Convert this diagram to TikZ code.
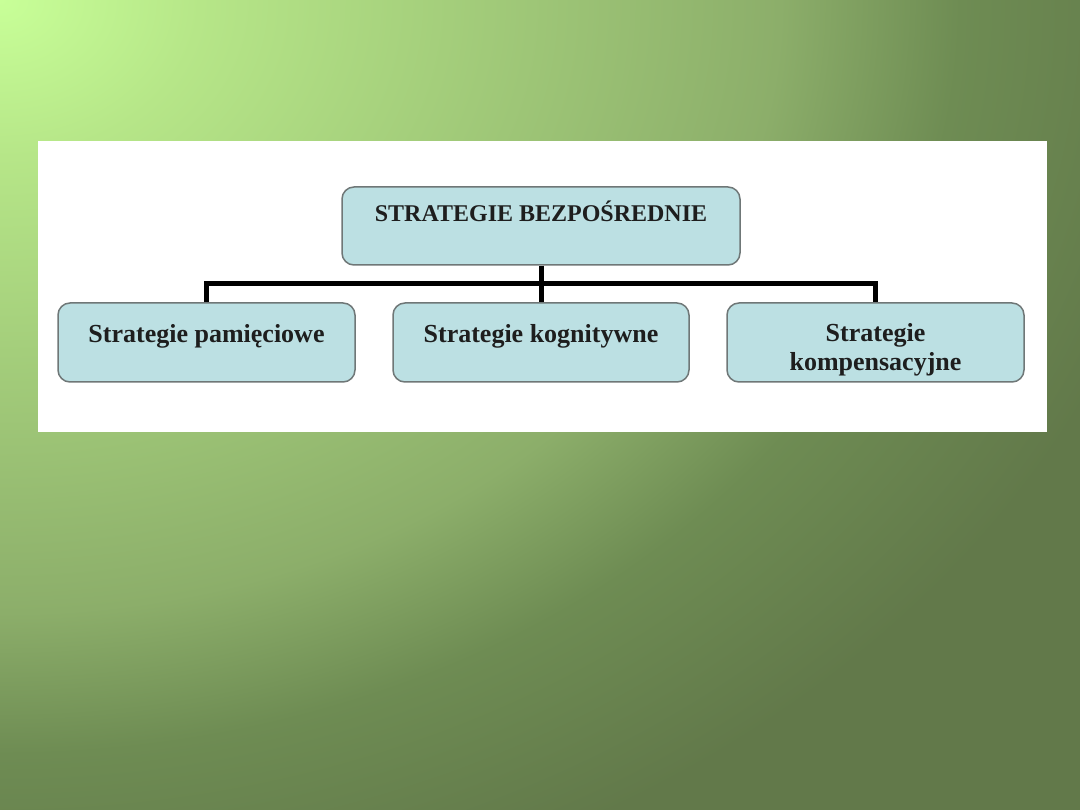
\documentclass[tikz,border=0pt]{standalone}
\usepackage{fontspec}
\setmainfont{Liberation Serif}
\definecolor{bgA}{HTML}{C8FF98}
\definecolor{bgB}{HTML}{B6E688}
\definecolor{bgC}{HTML}{8CAE6A}
\definecolor{bgD}{HTML}{6E8C53}
\definecolor{bgE}{HTML}{62794A}
\definecolor{boxfill}{HTML}{BCE0E3}
\definecolor{boxline}{HTML}{6F7777}
\definecolor{txt}{HTML}{1E1E1E}
\pgfdeclareradialshading{bgshade}{\pgfpoint{0bp}{0bp}}{color(0bp)=(bgA); color(2.5bp)=(bgB); color(9.75bp)=(bgC); color(12bp)=(bgD); color(15bp)=(bgE); color(50bp)=(bgE)}
\begin{document}
\begin{tikzpicture}[x=1pt,y=1pt,
  box/.style={draw=boxline, line width=1.5pt, fill=boxfill, rounded corners=12pt, inner sep=0pt},
  lbl/.style={text=txt, font=\fontsize{24}{29}\selectfont\bfseries, align=center, inner sep=0pt},
  slbl/.style={lbl, font=\fontsize{26}{29}\selectfont\bfseries},
  conn/.style={draw=black, line width=5pt}]
\useasboundingbox (0,0) rectangle (1080,-810);
\begin{scope}
\clip (0,0) rectangle (1080,-810);
\shade[shading=bgshade] (0,0) ellipse [x radius=2000, y radius=1571];
\end{scope}
\fill[white] (38,-141) rectangle (1047,-432);
\node[box, minimum width=398pt, minimum height=78pt] (top) at (541,-226) {};
\node[box, minimum width=297pt, minimum height=79pt] (left) at (206.5,-342.5) {};
\node[box, minimum width=296pt, minimum height=79pt] (mid) at (541,-342.5) {};
\node[box, minimum width=297pt, minimum height=79pt] (right) at (875.5,-342.5) {};
\coordinate (bus) at (541,-284);
\draw[conn] (top.south) -- (mid.north);
\draw[conn] (left.north) |- (bus) -| (right.north);
\node[lbl] (ttop) at (541,-211) {STRATEGIE BEZPOŚREDNIE};
\node[slbl] (tleft) at (206.5,-336) {Strategie pamięciowe};
\node[slbl] (tmid) at (541,-336) {Strategie kognitywne};
\node[slbl] (tright) at (875.5,-349.5) {Strategie\\kompensacyjne};
\end{tikzpicture}
\end{document}
